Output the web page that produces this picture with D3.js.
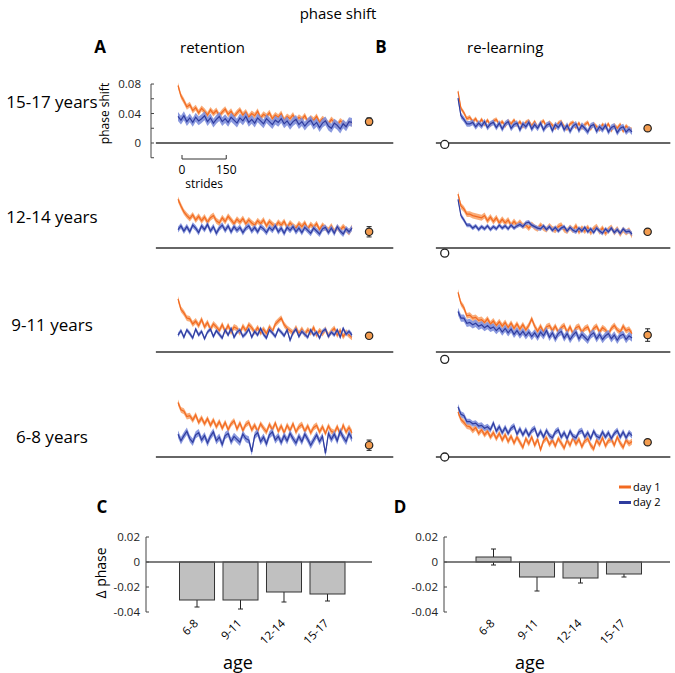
<!DOCTYPE html>
<html>
<head>
<meta charset="utf-8">
<script src="https://cdn.jsdelivr.net/npm/d3@7"></script>
<style>
  body { margin: 0; background: #fff; }
  svg { font-family: "Open Sans", "Noto Sans", sans-serif; }
</style>
</head>
<body>
<svg id="chart" width="675" height="673"></svg>
<script>
// ---- data (trace values in units of 0.001 phase) ----
var rowLabels = ["15-17 years", "12-14 years", "9-11 years", "6-8 years"];

// retention, day 1 (orange) - one row per age group, sampled every 10 strides
var retDay1 = [
  [78,64,57,49,52,44,48,41,47,43,38,45,40,44,37,42,46,39,43,36,41,45,38,42,35,40,37,43,34,39,36,41,33,38,35,40,31,36,33,38,30,35,32,37,29,34,31,36,28,33,30,26,32,28,24,30,27,23,29,26],
  [66,57,49,44,40,45,38,43,37,42,35,41,44,37,34,41,36,43,38,33,39,35,40,33,38,34,31,37,33,38,30,36,32,29,35,31,36,28,34,30,27,33,29,34,26,32,28,33,25,31,27,24,30,22,28,24,29,25,21,28],
  [72,58,53,46,45,38,42,36,44,34,40,31,38,34,29,37,28,36,27,34,32,26,35,29,37,33,27,33,26,31,25,34,28,38,42,46,37,32,29,26,33,25,31,24,30,26,33,23,29,25,31,22,28,32,23,29,21,27,23,20],
  [74,64,62,55,56,50,57,47,53,45,52,43,50,41,48,39,47,37,45,49,38,46,36,44,47,37,43,35,45,39,34,44,37,46,35,42,33,43,36,45,34,41,44,35,42,33,40,43,34,41,32,42,35,33,41,31,43,34,40,33]
];
// retention, day 2 (blue)
var retDay2 = [
  [36,31,37,29,34,28,35,30,33,37,29,34,27,32,36,29,33,28,35,31,27,34,30,36,28,32,27,34,30,26,33,29,25,31,28,33,26,30,24,29,32,25,29,23,28,31,24,28,21,27,30,23,20,27,24,19,26,22,29,28],
  [25,30,23,29,22,31,27,21,30,25,32,23,29,20,27,31,24,30,22,29,24,28,21,27,30,23,28,22,29,26,21,28,24,30,22,27,20,28,24,29,22,27,21,28,24,20,27,23,19,26,28,21,27,20,29,23,19,26,22,27],
  [23,29,20,30,25,19,31,23,28,18,27,31,21,29,24,19,30,23,32,20,27,30,21,25,31,20,28,23,32,24,19,30,26,21,31,27,22,30,16,26,31,21,28,24,20,30,23,27,19,28,31,21,27,23,30,20,32,24,28,23],
  [31,22,29,35,25,20,30,33,23,29,19,28,34,22,27,17,29,32,21,28,24,20,31,25,23,7,29,33,21,27,18,30,34,23,28,20,29,22,32,25,19,28,21,31,24,16,23,30,21,28,5,32,24,31,22,35,27,21,32,25]
];
// re-learning, day 1 (orange)
var relDay1 = [
  [70,47,41,33,35,29,33,26,32,25,31,24,30,32,25,29,23,30,26,31,24,29,22,28,30,23,29,21,27,30,22,28,24,20,27,29,22,19,26,28,21,27,20,25,28,19,26,22,18,25,21,26,17,24,20,25,16,23,19,18],
  [73,57,53,46,46,44,43,42,41,44,37,42,36,41,34,39,34,38,31,36,31,35,30,31,27,32,28,26,31,27,25,30,26,24,29,31,25,23,28,24,30,22,27,23,28,21,26,29,22,27,20,25,28,21,26,19,25,21,24,17],
  [81,66,60,49,50,46,47,43,44,40,45,38,42,36,41,35,40,33,39,32,38,31,37,30,36,45,35,28,35,27,34,36,29,35,27,33,36,27,34,25,33,35,27,32,34,25,32,35,27,33,30,24,32,36,30,27,35,29,31,25],
  [61,51,47,42,41,36,40,32,37,30,35,27,33,25,32,23,30,21,28,19,27,20,13,25,18,27,16,24,10,22,26,17,23,15,25,19,12,23,16,26,18,24,14,22,25,16,11,23,17,26,15,22,24,16,27,19,13,23,18,21]
];
// re-learning, day 2 (blue)
var relDay2 = [
  [61,37,32,26,26,28,22,27,23,29,21,26,28,21,27,19,26,29,20,25,27,18,26,22,28,19,25,20,27,18,24,26,17,25,21,27,18,24,16,23,26,17,24,20,15,23,25,16,22,18,24,15,21,23,14,20,22,15,19,15],
  [66,44,38,31,31,27,30,25,29,26,30,25,29,26,31,27,30,26,31,27,30,32,29,34,35,31,29,27,26,30,25,29,24,28,23,27,29,23,28,24,22,27,23,28,22,26,21,27,23,20,26,22,27,21,25,20,26,22,23,19],
  [55,46,46,39,40,37,39,35,37,33,36,32,34,29,33,27,32,26,31,24,29,23,28,22,27,21,26,20,27,22,29,20,26,18,25,28,19,25,17,23,27,18,24,20,16,23,26,18,24,17,22,25,18,23,16,22,24,17,22,19],
  [68,58,56,48,48,45,46,42,43,39,41,37,46,35,41,33,40,32,39,42,31,38,30,37,29,36,39,28,35,27,36,29,26,34,37,27,33,25,35,28,26,34,36,27,33,25,35,28,26,34,27,33,25,32,36,27,34,26,33,29]
];
// s.e.m. band half-widths
var retBand1 = [4, 4, 4, 4];
var retBand2 = [6, 4, 3, 5];
var relBand1 = [3, 4, 4, 4];
var relBand2 = [4, 3, 5, 4];

// summary dots at the right of each trace
var retDot = [29, 22, 22, 16];
var retDotErr = [5, 7, 3, 7];
var relDot = [20, 22, 23, 20];
var relDotErr = [2, 3, 8.5, 3];
// open circles before re-learning
var relStart = [-2, -7, -10, 0];

// bar panels
var ages = ["6-8", "9-11", "12-14", "15-17"];
var deltaRet = [-0.0304, -0.0304, -0.0240, -0.0256];
var deltaRetErr = [0.0056, 0.0072, 0.0080, 0.0056];
var deltaRel = [0.0040, -0.0120, -0.0128, -0.0096];
var deltaRelErr = [0.0064, 0.0112, 0.0040, 0.0024];
var barTicks = [0.02, 0, -0.02, -0.04];
var barTickLabels = ["0.02", "0", "-0.02", "-0.04"];
var traceTicks = [-20, 0, 20, 40, 60, 80];
var traceTickLabels = {80: "0.08", 40: "0.04", 0: "0"};

// ---- layout ----
var orange = "#f26a21", orangeBand = "#f8a46c";
var blue = "#2f3c9e", blueBand = "#7e8fdc";
var svg = d3.select("#chart");
var rowZero = [143, 248, 352, 457];
var rowLabelY = [108, 223, 331, 443];
var pxPerUnit = 0.737; // px per 0.001

var xA = d3.scaleLinear().domain([0, 590]).range([178, 352]);
var xB = d3.scaleLinear().domain([0, 590]).range([458, 632]);

svg.append("text").attr("x", 338).attr("y", 19).attr("text-anchor", "middle")
  .style("font-size", "15px").text("phase shift");
svg.append("text").attr("x", 100).attr("y", 53).attr("text-anchor", "middle")
  .style("font-size", "17px").style("font-weight", "bold").text("A");
svg.append("text").attr("x", 180).attr("y", 53).style("font-size", "15px").text("retention");
svg.append("text").attr("x", 381).attr("y", 53).attr("text-anchor", "middle")
  .style("font-size", "17px").style("font-weight", "bold").text("B");
svg.append("text").attr("x", 467).attr("y", 53).style("font-size", "15px").text("re-learning");

function drawTrace(g, x, y, vals, band, col, bandCol) {
  var pts = vals.map(function(v, i) { return [i * 10, v]; });
  g.append("path").datum(pts)
    .attr("fill", bandCol).attr("opacity", 0.9)
    .attr("d", d3.area().x(function(d) { return x(d[0]); })
      .y0(function(d) { return y(d[1] - band); })
      .y1(function(d) { return y(d[1] + band); }));
  g.append("path").datum(pts)
    .attr("fill", "none").attr("stroke", col).attr("stroke-width", 1.2)
    .attr("d", d3.line().x(function(d) { return x(d[0]); }).y(function(d) { return y(d[1]); }));
}

function drawDot(g, x, y, v, e) {
  g.append("line").attr("x1", x).attr("x2", x).attr("y1", y(v - e)).attr("y2", y(v + e))
    .attr("stroke", "#222").attr("stroke-width", 1);
  [v - e, v + e].forEach(function(t) {
    g.append("line").attr("x1", x - 2.5).attr("x2", x + 2.5).attr("y1", y(t)).attr("y2", y(t))
      .attr("stroke", "#222").attr("stroke-width", 1);
  });
  g.append("circle").attr("cx", x).attr("cy", y(v)).attr("r", 3.7)
    .attr("fill", "#f39c4f").attr("stroke", "#222").attr("stroke-width", 1.2);
}

rowLabels.forEach(function(lab, r) {
  var y = d3.scaleLinear().domain([0, 80]).range([rowZero[r], rowZero[r] - 80 * pxPerUnit]);
  var g = svg.append("g");

  svg.append("text").attr("x", 52).attr("y", rowLabelY[r]).attr("text-anchor", "middle")
    .style("font-size", "17px").text(lab);

  // zero lines
  g.append("line").attr("x1", xA(-75)).attr("x2", xA(730)).attr("y1", y(0)).attr("y2", y(0))
    .attr("stroke", "#333").attr("stroke-width", 1.3);
  g.append("line").attr("x1", xB(-75)).attr("x2", xB(720)).attr("y1", y(0)).attr("y2", y(0))
    .attr("stroke", "#333").attr("stroke-width", 1.3);

  // retention
  drawTrace(g, xA, y, retDay1[r], retBand1[r], orange, orangeBand);
  drawTrace(g, xA, y, retDay2[r], retBand2[r], blue, blueBand);
  drawDot(g, xA(648), y, retDot[r], retDotErr[r]);

  // re-learning
  drawTrace(g, xB, y, relDay1[r], relBand1[r], orange, orangeBand);
  drawTrace(g, xB, y, relDay2[r], relBand2[r], blue, blueBand);
  drawDot(g, xB(643), y, relDot[r], relDotErr[r]);
  g.append("circle").attr("cx", xB(-45)).attr("cy", y(relStart[r])).attr("r", 4)
    .attr("fill", "#fff").attr("stroke", "#222").attr("stroke-width", 1.3);

  if (r === 0) {
    // y axis with inward ticks
    var yAx = d3.scaleLinear().domain([-20, 80]).range([rowZero[0] + 20 * pxPerUnit, rowZero[0] - 80 * pxPerUnit]);
    var ax = svg.append("g").attr("transform", "translate(151,0)");
    ax.append("line").attr("y1", yAx(-20)).attr("y2", yAx(80)).attr("stroke", "#444").attr("stroke-width", 1);
    traceTicks.forEach(function(t) {
      ax.append("line").attr("x1", 0).attr("x2", 3).attr("y1", yAx(t)).attr("y2", yAx(t))
        .attr("stroke", "#444").attr("stroke-width", 1);
      if (traceTickLabels[t] !== undefined) {
        ax.append("text").attr("x", -10).attr("y", yAx(t)).attr("dy", "0.35em")
          .attr("text-anchor", "end").style("font-size", "11.5px").attr("fill", "#222")
          .text(traceTickLabels[t]);
      }
    });
    svg.append("text").attr("transform", "translate(109," + yAx(40) + ") rotate(-90)")
      .attr("text-anchor", "middle").style("font-size", "12px").text("phase shift");

    // stride scale bar
    var sb = svg.append("g").attr("transform", "translate(4,0)");
    var sy = 159;
    sb.append("path").attr("fill", "none").attr("stroke", "#333").attr("stroke-width", 1)
      .attr("d", "M" + xA(0) + "," + (sy - 4) + "V" + sy + "H" + xA(150) + "V" + (sy - 4));
    sb.append("text").attr("x", xA(0)).attr("y", sy + 15).attr("text-anchor", "middle")
      .style("font-size", "12px").text("0");
    sb.append("text").attr("x", xA(150)).attr("y", sy + 15).attr("text-anchor", "middle")
      .style("font-size", "12px").text("150");
    sb.append("text").attr("x", xA(75)).attr("y", sy + 29).attr("text-anchor", "middle")
      .style("font-size", "12px").text("strides");
  }
});

// ---- bar panels ----
var yBar = d3.scaleLinear().domain([-0.04, 0.02]).range([612, 537]);

function drawBars(axisX, x0, x1, letter, letterX, vals, errs, ageX) {
  var x = d3.scaleBand().domain(ages).range([x0, x1]).paddingInner(0.195).paddingOuter(0);
  var g = svg.append("g");
  // axis
  g.append("line").attr("x1", axisX).attr("x2", axisX).attr("y1", yBar(-0.04)).attr("y2", yBar(0.02))
    .attr("stroke", "#444").attr("stroke-width", 1);
  barTicks.forEach(function(t, i) {
    g.append("line").attr("x1", axisX).attr("x2", axisX + 3).attr("y1", yBar(t)).attr("y2", yBar(t))
      .attr("stroke", "#444");
    g.append("text").attr("x", axisX - 6).attr("y", yBar(t)).attr("dy", "0.35em")
      .attr("text-anchor", "end").style("font-size", "11.5px").attr("fill", "#222").text(barTickLabels[i]);
  });
  // error bars (behind bars)
  ages.forEach(function(a, i) {
    var cx = x(a) + x.bandwidth() / 2;
    var lo = vals[i] - errs[i], hi = vals[i] + errs[i];
    g.append("line").attr("x1", cx).attr("x2", cx).attr("y1", yBar(lo)).attr("y2", yBar(hi))
      .attr("stroke", "#222").attr("stroke-width", 1);
    [lo, hi].forEach(function(t) {
      g.append("line").attr("x1", cx - 2.5).attr("x2", cx + 2.5).attr("y1", yBar(t)).attr("y2", yBar(t))
        .attr("stroke", "#222").attr("stroke-width", 1);
    });
  });
  g.selectAll("rect.bar").data(vals).enter().append("rect")
    .attr("x", function(d, i) { return x(ages[i]); })
    .attr("width", x.bandwidth())
    .attr("y", function(d) { return yBar(Math.max(0, d)); })
    .attr("height", function(d) { return Math.abs(yBar(d) - yBar(0)); })
    .attr("fill", "#c0c0c0").attr("stroke", "#333").attr("stroke-width", 1);
  // zero line
  g.append("line").attr("x1", axisX).attr("x2", axisX + 226).attr("y1", yBar(0)).attr("y2", yBar(0))
    .attr("stroke", "#555").attr("stroke-width", 1.3);
  // category labels
  ages.forEach(function(a) {
    var cx = x(a) + x.bandwidth() / 2 + 2;
    g.append("text").attr("transform", "translate(" + cx + ",624) rotate(-45)")
      .attr("text-anchor", "end").style("font-size", "11.5px").text(a);
  });
  g.append("text").attr("x", ageX).attr("y", 669).attr("text-anchor", "middle")
    .style("font-size", "18px").text("age");
  g.append("text").attr("x", letterX).attr("y", 513).attr("text-anchor", "middle")
    .style("font-size", "17px").style("font-weight", "bold").text(letter);
}

drawBars(146, 179.5, 345, "C", 102, deltaRet, deltaRetErr, 238);
drawBars(444, 476, 641.5, "D", 400, deltaRel, deltaRelErr, 530);

svg.append("text").attr("transform", "translate(106,573) rotate(-90)")
  .attr("text-anchor", "middle").style("font-size", "14px").text("\u0394 phase");

// legend
var legend = [["day 1", orange], ["day 2", blue]];
legend.forEach(function(d, i) {
  var ly = 487 + i * 15.5;
  svg.append("line").attr("x1", 619).attr("x2", 631).attr("y1", ly).attr("y2", ly)
    .attr("stroke", d[1]).attr("stroke-width", 3);
  svg.append("text").attr("x", 633).attr("y", ly).attr("dy", "0.35em")
    .style("font-size", "11px").text(d[0]);
});
</script>
</body>
</html>
